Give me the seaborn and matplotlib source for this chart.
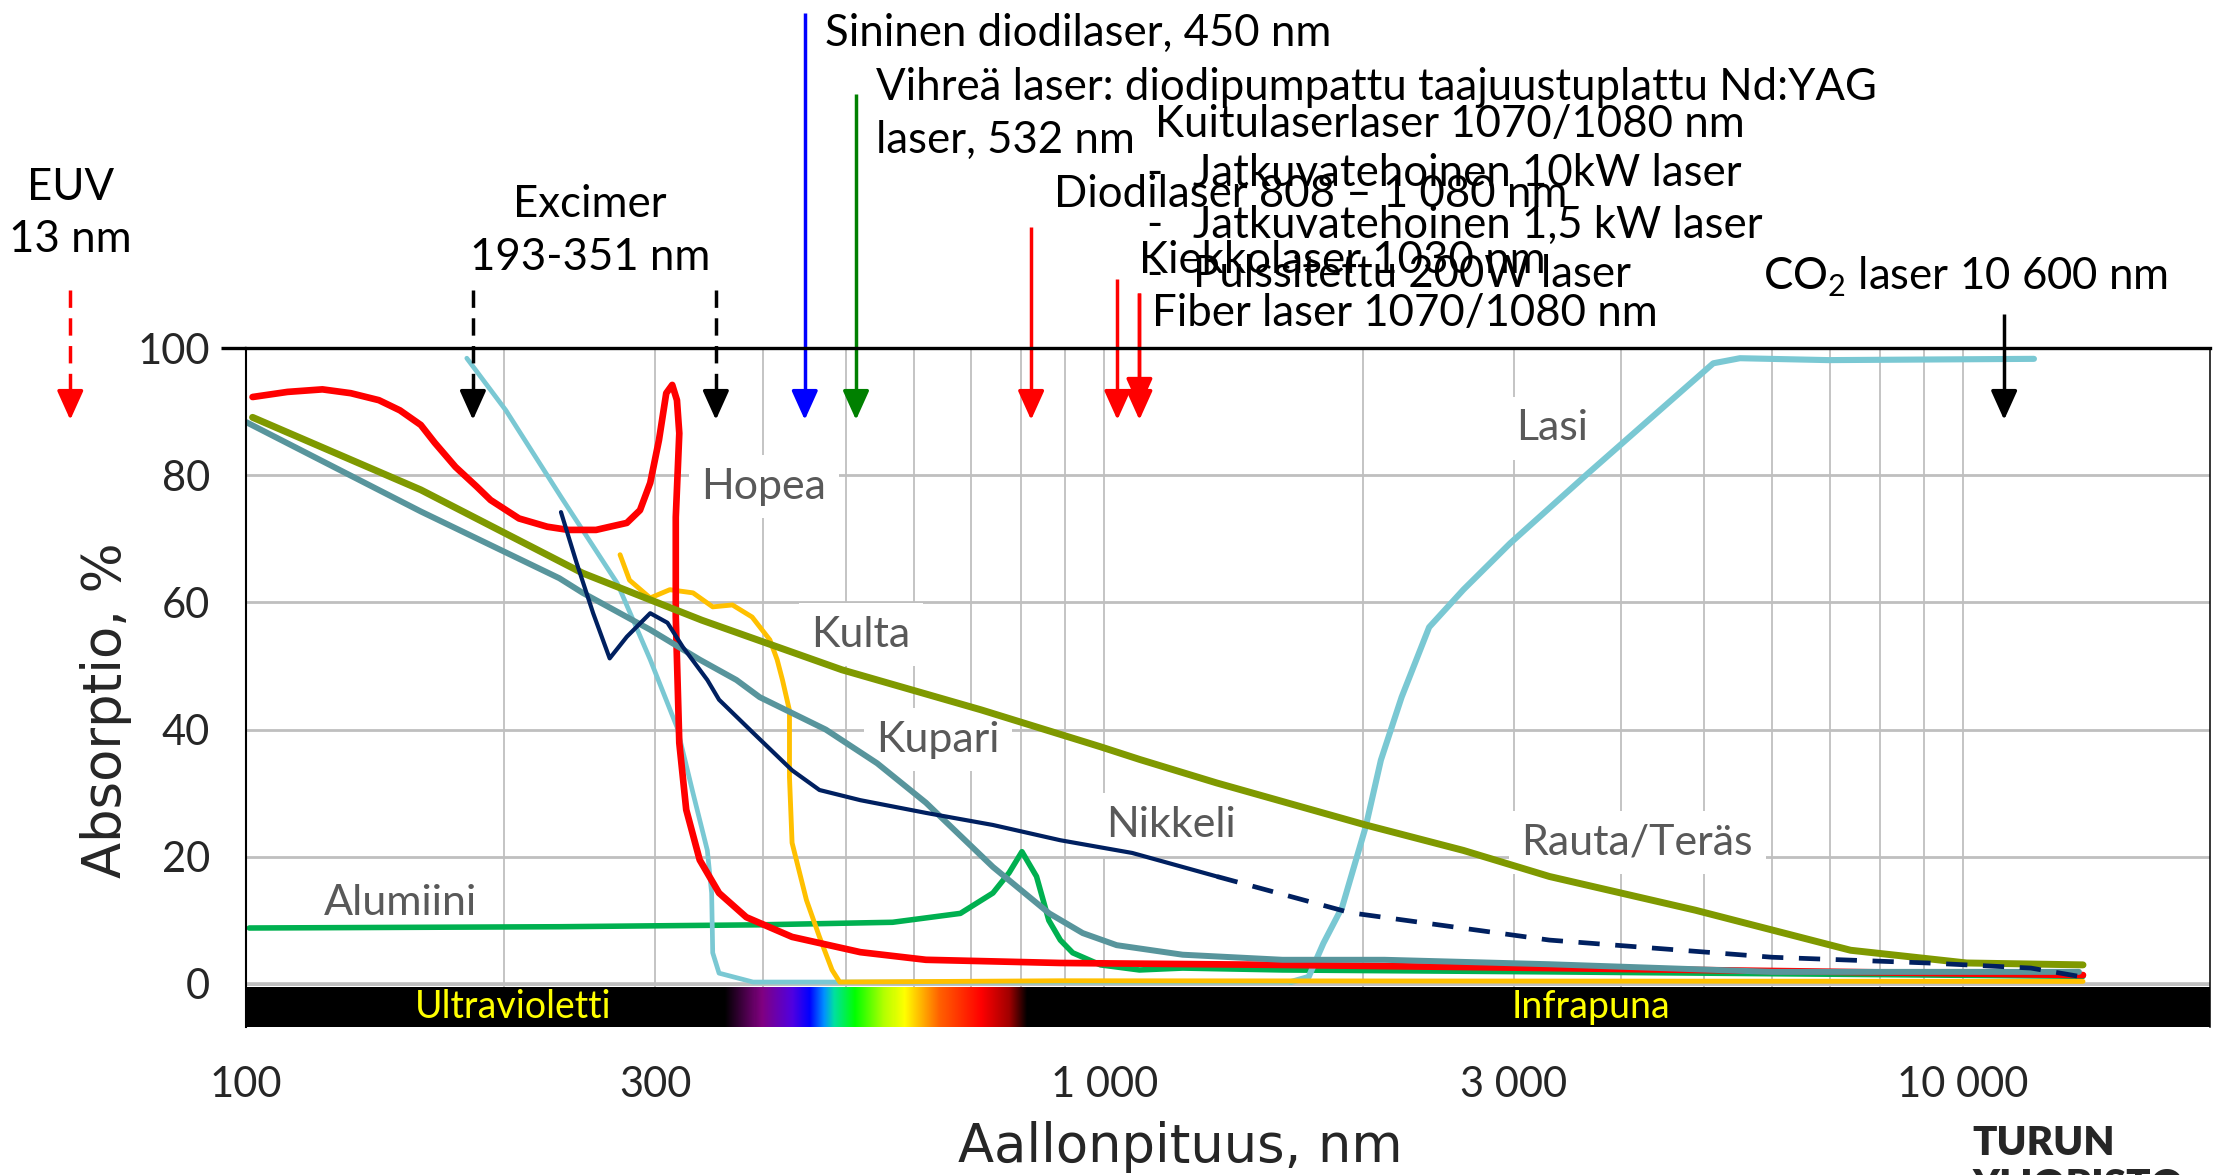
import numpy as np
import seaborn as sns
import matplotlib.pyplot as plt
from matplotlib.colors import ListedColormap, to_rgb
from matplotlib.ticker import FixedLocator, FixedFormatter, LogLocator, NullFormatter

# ---- data (wavelength nm, absorption %) ----
hopea_nm = [101.9, 111.9, 122.9, 132.6, 143, 151.3, 160, 166.1, 175.6, 185.9, 192.9, 208.2, 224.6, 237.6,
            256, 265.7, 278, 288, 296, 303, 309, 314, 318, 320, 317, 317, 318.5, 320, 326, 338, 356, 383,
            433, 520, 620, 889, 1600, 3300, 13800]
hopea_a = [92.3, 93.1, 93.5, 92.9, 91.8, 90.2, 87.9, 85.1, 81.3, 78.2, 76.1, 73.2, 71.9, 71.4,
           71.4, 71.9, 72.5, 74.5, 78.8, 85.5, 92.9, 94.2, 91.8, 86.6, 73.4, 57.7, 47.8, 37.9, 27.4, 19.5, 14.3, 10.5,
           7.4, 5.0, 3.8, 3.3, 3.0, 2.5, 1.4]

kulta_nm = [273, 280, 296, 312, 332, 350, 369, 389, 408, 416, 422, 430, 430, 433, 450, 466, 482, 492, 889, 13800]
kulta_a = [67.5, 63.5, 60.7, 62.0, 61.5, 59.3, 59.6, 57.7, 54.1, 51.0, 47.8, 43.0, 32.5, 22.2, 13.2, 7.4, 2.2, 0.3, 0.5, 0.4]

nikkeli_nm = [233, 243, 254, 265.5, 278, 296, 310, 323, 345, 356, 390, 433, 466, 520, 620, 742, 889, 1078, 1353]
nikkeli_a = [74.2, 66.2, 58.3, 51.2, 54.6, 58.3, 56.8, 53.0, 47.8, 44.7, 39.5, 33.6, 30.5, 28.9, 26.9, 25.0, 22.6, 20.6, 16.9]
nikkeli_ir_nm = [1353, 1935, 3300, 6000, 9100, 12000, 13650]
nikkeli_ir_a = [16.9, 11.2, 6.9, 4.2, 3.3, 2.5, 1.2]

kupari_nm = [100, 160, 232, 247, 296, 338, 373, 397, 474, 544, 620, 742, 863, 944, 1034, 1234, 1613, 2120,
             3300, 6000, 13650]
kupari_a = [88.4, 74.3, 63.8, 61.5, 55.7, 51.0, 47.8, 45.1, 40.0, 34.7, 28.5, 18.4, 11.1, 8.0, 6.1, 4.6, 3.8, 3.8,
            3.1, 1.9, 1.9]

rauta_nm = [101.9, 160, 247, 340, 495, 719, 990, 1100, 1353, 2016, 2620, 3300, 4880, 7400, 10100, 13800]
rauta_a = [89.1, 77.7, 64.6, 57.2, 49.4, 43.1, 37.3, 35.3, 31.6, 25.0, 21.0, 16.9, 11.6, 5.3, 3.3, 3.0]

alumiini_nm = [101, 232, 397, 567, 680, 742, 775, 802, 834, 862, 889, 919, 990, 1099, 1234, 1613, 3300, 13800]
alumiini_a = [8.8, 9.0, 9.3, 9.7, 11.1, 14.3, 17.5, 20.8, 16.9, 10.0, 6.9, 4.9, 3.0, 2.2, 2.5, 2.2, 1.9, 1.2]

lasi_nm = [181, 201, 233, 271, 296, 318, 332, 345, 349, 350, 356, 390, 1650, 1730, 1800, 1893, 2016, 2100,
           2220, 2390, 2620, 2970, 3660, 5120, 5500, 6970, 12100]
lasi_a = [98.4, 90.2, 76.6, 63.0, 51.0, 40.4, 30.0, 21.0, 14.3, 4.9, 1.7, 0.3, 0.3, 1.1, 6.4, 12.1, 24.7, 35.2,
          45.1, 56.1, 62.0, 69.3, 80.3, 97.6, 98.4, 98.1, 98.3]

# visible spectrum band under the axis
spec_nm = [362, 399, 433, 454, 472, 485, 513, 554, 585, 643, 719, 776, 814]
spec_col = ['#000000', '#800080', '#5000E0', '#0000FF', '#0090FF', '#00E0A0', '#00FF00', '#B0FF00',
            '#FFFF00', '#FF6000', '#FF0000', '#A00000', '#000000']

xticks = [100, 300, 1000, 3000, 10000]
xticklabels = ['100', '300', '1 000', '3 000', '10 000']
yticks = [0, 20, 40, 60, 80, 100]

GRID = '#BFBFBF'
LABEL = '#595959'

sns.set_style("white")
plt.rcParams['font.family'] = ['Lato', 'DejaVu Sans']
plt.rcParams['mathtext.fontset'] = 'custom'
plt.rcParams['mathtext.rm'] = 'Lato'

fig = plt.figure(figsize=(22.14, 11.75), dpi=100)
ax = fig.add_axes([0.1109, 0.126, 0.8873, 0.5778])
ax.set_xscale('log')
ax.set_xlim(100, 19400)
ax.set_ylim(-6.76, 100)
ax.set_axisbelow(True)

ax.xaxis.set_major_locator(FixedLocator(xticks))
ax.xaxis.set_major_formatter(FixedFormatter(xticklabels))
ax.xaxis.set_minor_locator(LogLocator(base=10, subs=np.arange(2, 10)))
ax.xaxis.set_minor_formatter(NullFormatter())
ax.set_yticks(yticks)
ax.grid(axis='x', which='both', color=GRID, lw=1.3)
ax.grid(axis='y', which='major', color=GRID, lw=2)
ax.axhline(0, color=GRID, lw=2.6, zorder=0.6)
ax.tick_params(axis='x', which='major', length=20, width=1.3, color=GRID, pad=8, labelsize=30)
ax.tick_params(axis='x', which='minor', length=0)
ax.tick_params(axis='y', length=17.7, width=2, color=GRID, pad=8, labelsize=30)
ax.plot([-0.0125, 0], [1, 1], transform=ax.transAxes, color='black', lw=2.4,
        clip_on=False, solid_capstyle='butt')

ax.spines['top'].set_linewidth(2.4)
ax.spines['right'].set_linewidth(1.1)
ax.spines['left'].set_linewidth(1.5)
ax.spines['bottom'].set_visible(False)
for s in ['top', 'right', 'left']:
    ax.spines[s].set_color('black')

# spectrum bar
ax.axhspan(-6.76, -0.45, color='black', lw=0, zorder=3)
edges = np.geomspace(spec_nm[0], spec_nm[-1], 301)
mids = np.log10(np.sqrt(edges[:-1] * edges[1:]))
rgb = np.array([to_rgb(c) for c in spec_col])
cols = np.column_stack([np.interp(mids, np.log10(spec_nm), rgb[:, i]) for i in range(3)])
ax.pcolormesh(edges, [-6.76, -0.45], np.arange(300).reshape(1, -1), cmap=ListedColormap(cols),
              shading='flat', zorder=3.5)
ax.text(157.5, -3.7, 'Ultravioletti', color='#FFFF00', fontsize=27, va='center', zorder=4)
ax.text(2985, -3.7, 'Infrapuna', color='#FFFF00', fontsize=27, va='center', zorder=4)

# curves
def curve(x, y, color, lw, **kw):
    sns.lineplot(x=x, y=y, ax=ax, color=color, lw=lw, sort=False, estimator=None, zorder=2,
                 solid_joinstyle='round', **kw)

curve(alumiini_nm, alumiini_a, '#00B050', 4.0)
curve(lasi_nm[:13], lasi_a[:13], '#7AC8D3', 3.4)
curve(lasi_nm[12:], lasi_a[12:], '#7AC8D3', 4.4)
curve(kulta_nm, kulta_a, '#FFC000', 3.5)
curve(hopea_nm, hopea_a, '#FF0000', 4.8)
curve(rauta_nm, rauta_a, '#7F9900', 5.0)
curve(kupari_nm, kupari_a, '#58959C', 4.3)
curve(nikkeli_nm, nikkeli_a, '#002060', 3.0)
curve(nikkeli_ir_nm, nikkeli_ir_a, '#002060', 3.4, dashes=False, linestyle=(0, (4.5, 3.3)))

# curve labels
lab = dict(fontsize=31, color=LABEL, va='center', zorder=1.5,
           bbox=dict(facecolor='white', edgecolor='none', pad=9))
ax.text(339.6, 78.2, 'Hopea', **lab)
ax.text(456, 54.9, 'Kulta', **lab)
ax.text(543, 38.4, 'Kupari', **lab)
ax.text(1006, 25.0, 'Nikkeli', **lab)
ax.text(123.4, 12.7, 'Alumiini', **lab)
ax.text(3020, 87.4, 'Lasi', **lab)
ax.text(3062, 22.3, 'Rauta/Teräs', **lab)

# laser arrows
TIP = 88.7
def arrow(x, top, color, dashed=False, tip=TIP):
    ax.plot([x, x], [top, tip + 3.5], color=color, lw=2.5, clip_on=False,
            ls=(0, (5, 3)) if dashed else '-', solid_capstyle='butt')
    ax.annotate('', xy=(x, tip), xytext=(x, tip + 4), annotation_clip=False,
                arrowprops=dict(arrowstyle='-|>,head_length=0.6,head_width=0.27', color=color,
                                lw=2.5, mutation_scale=30, shrinkA=0, shrinkB=0))

arrow(62.5, 109.1, '#FF0000', dashed=True)
arrow(184, 109.1, 'black', dashed=True)
arrow(353, 109.1, 'black', dashed=True)
arrow(448, 152.7, '#0000FF')
arrow(514, 139.9, '#008000')
arrow(822, 119.0, '#FF0000')
arrow(1036, 110.8, '#FF0000')
arrow(1099, 108.6, '#FF0000', tip=90.6)
arrow(1099, 108.6, '#FF0000')
arrow(11170, 105.3, 'black')

txt = dict(fontsize=31.5, color='black', va='center')
ax.text(62.5, 125.2, 'EUV', ha='center', **txt)
ax.text(62.5, 117.0, '13 nm', ha='center', **txt)
ax.text(251.8, 122.5, 'Excimer', ha='center', **txt)
ax.text(251.8, 114.3, '193-351 nm', ha='center', **txt)
ax.text(472.6, 149.5, 'Sininen diodilaser, 450 nm', **txt)
ax.text(543, 140.9, 'Vihreä laser: diodipumpattu taajuustuplattu Nd:YAG', **txt)
ax.text(543, 132.7, 'laser, 532 nm', **txt)
ax.text(1145, 135.1, 'Kuitulaserlaser 1070/1080 nm', **txt)
ax.text(1120, 127.5, '-', **txt)
ax.text(1270, 127.5, 'Jatkuvatehoinen 10kW laser', **txt)
ax.text(873, 124.1, 'Diodilaser 808 – 1 080 nm', **txt)
ax.text(1120, 119.3, '-', **txt)
ax.text(1270, 119.3, 'Jatkuvatehoinen 1,5 kW laser', **txt)
ax.text(1097, 113.8, 'Kiekkolaser 1030 nm', **txt)
ax.text(1120, 111.5, '-', **txt)
ax.text(1270, 111.5, 'Pulssitettu 200W laser', **txt)
ax.text(1137, 105.5, 'Fiber laser 1070/1080 nm', **txt)
ax.text(5843, 111.2, 'CO$_{\\mathregular{2}}$ laser 10 600 nm', **txt)

# axis titles
fig.text(0.533, 0.0111, 'Aallonpituus, nm', ha='center', va='baseline', fontsize=38, family='DejaVu Sans')
fig.text(0.0479, 0.3957, 'Absorptio, %', ha='center', va='center', rotation=90, fontsize=38,
         family='DejaVu Sans')

# logo text
fig.text(0.8907, 0.0272, 'TURUN', fontsize=29, fontweight='heavy', va='center')
fig.text(0.8907, 0.006, 'YLIOPISTO', fontsize=29, fontweight='heavy', va='top')

fig.savefig('out.png', dpi=100)
